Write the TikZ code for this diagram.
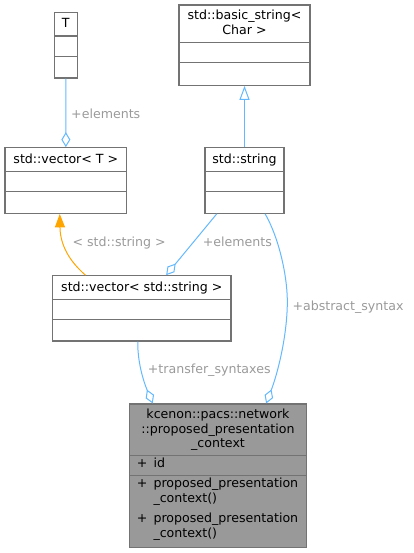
\documentclass[tikz,border=0pt]{standalone}
\usepackage{fontspec}
\setmainfont{DejaVu Sans}
\usetikzlibrary{arrows.meta,calc,fit}
\definecolor{edgec}{HTML}{63B8FF}
\definecolor{lblc}{HTML}{9A9A9A}
\definecolor{bordc}{HTML}{737373}
\definecolor{mainfill}{HTML}{999999}
\definecolor{inhc}{HTML}{FFA500}
\begin{document}
\begin{tikzpicture}[x=1pt,y=-1pt,
  clsbox/.style={draw=bordc, line width=1.1pt, inner sep=0pt, rectangle},
  divline/.style={draw=bordc, line width=1.1pt},
  txt/.style={font=\fontsize{12.6}{14}\selectfont, inner sep=0pt, anchor=mid},
  lbl/.style={font=\fontsize{12.6}{14}\selectfont, inner sep=0pt, anchor=mid west, text=lblc},
  assoc/.style={draw=edgec, line width=1pt, -{Diamond[open,length=15pt,width=9pt,line width=1pt]}},
  gen/.style={draw=edgec, line width=1pt, -{Triangle[open,length=14pt,width=10pt,line width=1pt]}},
  tmpl/.style={draw=inhc, line width=1pt, -{Triangle[length=13.5pt,width=10pt]}}]
\useasboundingbox (0,0) rectangle (413,553);

% T
\node[clsbox, fit={(54.3,12.7)(77.3,78)}] (T) {};
\draw[divline] (54.3,36) -- (77.3,36);
\draw[divline] (54.3,56.7) -- (77.3,56.7);
\node[txt] (Tt) at (65.8,25) {T};

% basic_string
\node[clsbox, fit={(179,5)(310,85.3)}] (bs) {};
\draw[divline] (179,42.7) -- (310,42.7);
\draw[divline] (179,62.7) -- (310,62.7);
\node[txt] (bst1) at (244.5,16.7) {std::basic\_string<};
\node[txt] (bst2) at (244.5,31.7) {Char >};

% vector<T>
\node[clsbox, fit={(5,147.7)(126.7,213.3)}] (vT) {};
\draw[divline] (5,171.7) -- (126.7,171.7);
\draw[divline] (5,191.7) -- (126.7,191.7);
\node[txt] (vTt) at (65.85,160.5) {std::vector< T >};

% std::string
\node[clsbox, fit={(205,147.7)(284,213.3)}] (ss) {};
\draw[divline] (205,171.7) -- (284,171.7);
\draw[divline] (205,191.7) -- (284,191.7);
\node[txt] (sst) at (244.5,160.5) {std::string};

% vector<std::string>
\node[clsbox, fit={(52.7,275.7)(231,341)}] (vs) {};
\draw[divline] (52.7,299.3) -- (231,299.3);
\draw[divline] (52.7,319.3) -- (231,319.3);
\node[txt] (vst) at (141.85,288.5) {std::vector< std::string >};

% main class
\node[clsbox, fill=mainfill, fit={(129.3,404)(306.7,547.7)}] (mc) {};
\draw[divline] (129.3,455.7) -- (306.7,455.7);
\draw[divline] (129.3,475.7) -- (306.7,475.7);
\node[txt] (mct1) at (218,415.7) {kcenon::pacs::network};
\node[txt] (mct2) at (218,430.3) {::proposed\_presentation};
\node[txt] (mct3) at (218,444.7) {\_context};
\node[txt, anchor=mid west] (ap) at (136.7,464.3) {+};
\node[txt, anchor=mid west] (aid) at (153.3,464.3) {id};
\node[txt, anchor=mid west] (m1p) at (136.7,485) {+};
\node[txt, anchor=mid west] (m1a) at (153.3,485) {proposed\_presentation};
\node[txt, anchor=mid west] (m1b) at (153.3,499.3) {\_context()};
\node[txt, anchor=mid west] (m2p) at (136.7,519.3) {+};
\node[txt, anchor=mid west] (m2a) at (153.3,519.3) {proposed\_presentation};
\node[txt, anchor=mid west] (m2b) at (153.3,534.3) {\_context()};

% edges
\draw[assoc] (T.south) -- (vT.north);
\node[lbl] (l1) at (71,115.7) {+elements};

\draw[gen] (ss.north) -- (bs.south);

\draw[tmpl] ([xshift=33.3pt]vs.north west) .. controls (75,266) and (60.3,250) .. ([xshift=55.3pt]vT.south west);
\node[lbl] (l2) at (72.3,243.3) {< std::string >};

\draw[assoc] ([xshift=12.3pt]ss.south west) -- ([xshift=114pt]vs.north west);
\node[lbl] (l3) at (202.7,243.3) {+elements};

\coordinate (abmid) at (287.3,305);
\draw[assoc] ([xshift=60.7pt]ss.south west) .. controls (280,240) and (288,280) .. (abmid) .. controls (286.5,340) and (277,375) .. ([xshift=137.4pt]mc.north west);
\node[lbl] (l4) at (292.3,307.7) {+abstract\_syntax};

\draw[assoc] ([xshift=85.6pt]vs.south west) .. controls (137.5,365) and (145,385) .. ([xshift=24pt]mc.north west);
\node[lbl] (l5) at (147.7,371) {+transfer\_syntaxes};
\end{tikzpicture}
\end{document}
